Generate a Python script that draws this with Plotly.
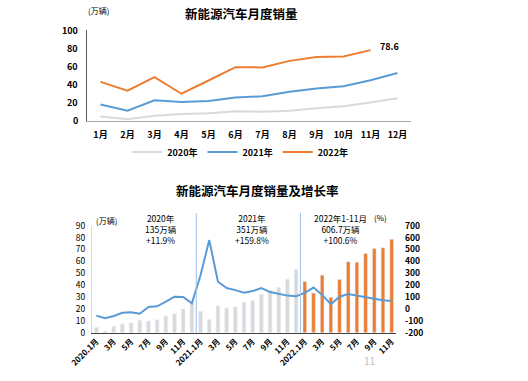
import plotly.graph_objects as go

months = ["1月", "2月", "3月", "4月", "5月", "6月", "7月", "8月", "9月", "10月", "11月", "12月"]
sales_2020 = [4.4, 1.3, 5.3, 7.2, 8.2, 10.4, 9.8, 10.9, 13.8, 16.0, 20.0, 24.8]
sales_2021 = [17.9, 11.0, 22.6, 20.6, 21.7, 25.6, 27.1, 32.1, 35.7, 38.3, 45.0, 53.1]
sales_2022 = [43.1, 33.4, 48.4, 29.9, 44.7, 59.6, 59.3, 66.6, 70.8, 71.4, 78.6]

growth_2020 = [-56, -79, -59, -33, -28, -41, 17, 22, 62, 103, 101, 47]
growth_2021 = [285, 579, 229, 176, 158, 137, 150, 175, 142, 128, 112, 106]
growth_2022 = [136, 180, 118, 40, 103, 126, 111, 100, 86, 73, 67]

top_yticks = [0, 20, 40, 60, 80, 100]
left_yticks = [0, 10, 20, 30, 40, 50, 60, 70, 80, 90]
right_yticks = [-200, -100, 0, 100, 200, 300, 400, 500, 600, 700]

periods = ([f"2020-{i:02d}" for i in range(1, 13)] +
           [f"2021-{i:02d}" for i in range(1, 13)] +
           [f"2022-{i:02d}" for i in range(1, 12)])
tick_periods = [p for p in periods if int(p[-2:]) % 2 == 1]
tick_labels = [("%s.1月" % p[:4]) if p.endswith("-01") else ("%d月" % int(p[-2:])) for p in tick_periods]

FONT = "Noto Sans CJK SC"
GRAY = "#D9D9D9"
BLUE = "#5B9BD5"
ORANGE = "#ED7D31"
H = 381.0
W = 528.0

fig = go.Figure()

# ---- top chart ----
fig.add_trace(go.Scatter(x=months, y=sales_2020, mode="lines", name="2020年",
                         line=dict(color=GRAY, width=2), xaxis="x", yaxis="y"))
fig.add_trace(go.Scatter(x=months, y=sales_2021, mode="lines", name="2021年",
                         line=dict(color=BLUE, width=2), xaxis="x", yaxis="y"))
fig.add_trace(go.Scatter(x=months[:11], y=sales_2022, mode="lines", name="2022年",
                         line=dict(color=ORANGE, width=2), xaxis="x", yaxis="y"))

# ---- bottom chart ----
all_sales = sales_2020 + sales_2021 + sales_2022
n_old = len(sales_2020) + len(sales_2021)
fig.add_trace(go.Bar(x=periods[:n_old], y=all_sales[:n_old], marker_color=GRAY,
                     width=0.42, showlegend=False, xaxis="x2", yaxis="y2"))
fig.add_trace(go.Bar(x=periods[n_old:], y=all_sales[n_old:], marker_color=ORANGE,
                     width=0.42, showlegend=False, xaxis="x2", yaxis="y2"))
fig.add_trace(go.Scatter(x=periods, y=growth_2020 + growth_2021 + growth_2022, mode="lines",
                         line=dict(color=BLUE, width=2), showlegend=False,
                         xaxis="x2", yaxis="y3"))

boldtick = dict(family=FONT, size=9, color="#000000", weight="bold")

fig.update_layout(
    width=528, height=381,
    margin=dict(l=0, r=0, t=0, b=0, autoexpand=False),
    paper_bgcolor="white", plot_bgcolor="white",
    font=dict(family=FONT, color="#000000"),
    barmode="overlay",
    showlegend=True,
    legend=dict(orientation="h", x=0.455, xanchor="center", y=1 - 152 / H, yanchor="middle",
                font=dict(family=FONT, size=9, color="#000000", weight="bold"), itemwidth=30,
                tracegroupgap=0, bgcolor="rgba(0,0,0,0)"),
    xaxis=dict(domain=[87 / W, 411 / W], anchor="y", type="category", automargin=False,
               range=[-0.5, 11.5], ticklabeloverflow="allow",
               showline=True, linecolor="#A6A6A6", linewidth=1, showgrid=False,
               ticks="", tickfont=boldtick, ticklabelstandoff=6),
    yaxis=dict(domain=[1 - 120.5 / H, 1 - 30 / H], anchor="x", range=[0, 101.1],
               tickvals=top_yticks, showticklabels=False,
               automargin=False,
               showline=True, linecolor="#595959", linewidth=1, showgrid=False,
               zeroline=False, ticks=""),
    xaxis2=dict(domain=[92 / W, 396 / W], anchor="y2", type="category", automargin=False,
                categoryorder="array", categoryarray=periods, ticklabeloverflow="allow",
                range=[-0.5, len(periods) - 0.5],
                showline=True, linecolor="#404040", linewidth=1, showgrid=False,
                ticks="", tickvals=tick_periods, ticktext=tick_labels, tickangle=-45,
                tickfont=dict(family=FONT, size=8, color="#000000", weight="bold")),
    yaxis2=dict(domain=[1 - 332.7 / H, 1 - 225.7 / H], anchor="x2", range=[0, 90],
                tickvals=left_yticks, ticktext=[str(v) for v in left_yticks],
                automargin=False, ticklabeloverflow="allow",
                showline=True, linecolor="#D9D9D9", linewidth=1, showgrid=False,
                zeroline=False, ticks="", tickfont=dict(family=FONT, size=8.5, color="#000000"),
                ticklabelstandoff=4),
    yaxis3=dict(overlaying="y2", side="right", anchor="x2", range=[-200, 700],
                tickvals=right_yticks, ticktext=[str(v) for v in right_yticks],
                automargin=False, ticklabeloverflow="allow",
                showline=False, showgrid=False, zeroline=False, ticks="",
                tickfont=dict(family=FONT, size=8.5, color="#000000", weight="bold"),
                ticklabelstandoff=8),
)

ann = []
# top chart y tick labels placed on the y axis scale
for v in top_yticks:
    ann.append(dict(text="<b>%d</b>" % v, x=87 / W, y=v, xref="paper", yref="y",
                    xanchor="right", yanchor="middle", xshift=-7, showarrow=False,
                    font=dict(family=FONT, size=9, color="#000000")))
ann.append(dict(text="<b>新能源汽车月度销量</b>", x=241 / W, y=1 - 13 / H, xref="paper", yref="paper",
                yanchor="middle", showarrow=False,
                font=dict(family=FONT, size=12.5, color="#000000")))
ann.append(dict(text="(万辆)", x=86 / W, y=1 - 11 / H, xref="paper", yref="paper",
                yanchor="middle", showarrow=False, font=dict(family=FONT, size=8, color="#000000")))
ann.append(dict(text="<b>78.6</b>", x=months[10], y=sales_2022[10], xref="x", yref="y",
                showarrow=False, xanchor="left", yanchor="middle", xshift=7, yshift=4,
                font=dict(family=FONT, size=9, color="#000000")))
ann.append(dict(text="<b>新能源汽车月度销量及增长率</b>", x=257 / W, y=1 - 190 / H, xref="paper",
                yref="paper", yanchor="middle", showarrow=False,
                font=dict(family=FONT, size=12.5, color="#000000")))
ann.append(dict(text="(万辆)", x=94 / W, y=1 - 220 / H, xref="paper", yref="paper",
                yanchor="middle", showarrow=False, font=dict(family=FONT, size=8, color="#000000")))
ann.append(dict(text="(%)", x=389 / W, y=1 - 217.5 / H, xref="paper", yref="paper",
                yanchor="middle", showarrow=False, font=dict(family=FONT, size=8, color="#000000")))
for cx, txt in [(143, "2020年<br>135万辆<br>+11.9%"),
                (252, "2021年<br>351万辆<br>+159.8%"),
                (340, "2022年1-11月<br>606.7万辆<br>+100.6%")]:
    ann.append(dict(text=txt, x=cx / W, y=1 - 210 / H, xref="paper", yref="paper",
                    yanchor="top", showarrow=False, align="center",
                    font=dict(family=FONT, size=8.5, color="#000000")))
ann.append(dict(text="11", x=377 / W, y=1 - 360 / H, xref="paper", yref="paper",
                yanchor="middle", showarrow=False, font=dict(family=FONT, size=10, color="#BFBFBF")))
fig.update_layout(annotations=ann)

shapes = []
for xv in [11.5, 23.5]:
    shapes.append(dict(type="line", xref="x2", yref="paper", x0=xv, x1=xv,
                       y0=1 - 333 / H, y1=1 - 213 / H,
                       line=dict(color="#9DC3E6", width=1)))
fig.update_layout(shapes=shapes)

fig.write_html("out.html", config={"displayModeBar": False},
               post_script="document.body.style.margin='0';document.body.style.overflow='hidden';")
